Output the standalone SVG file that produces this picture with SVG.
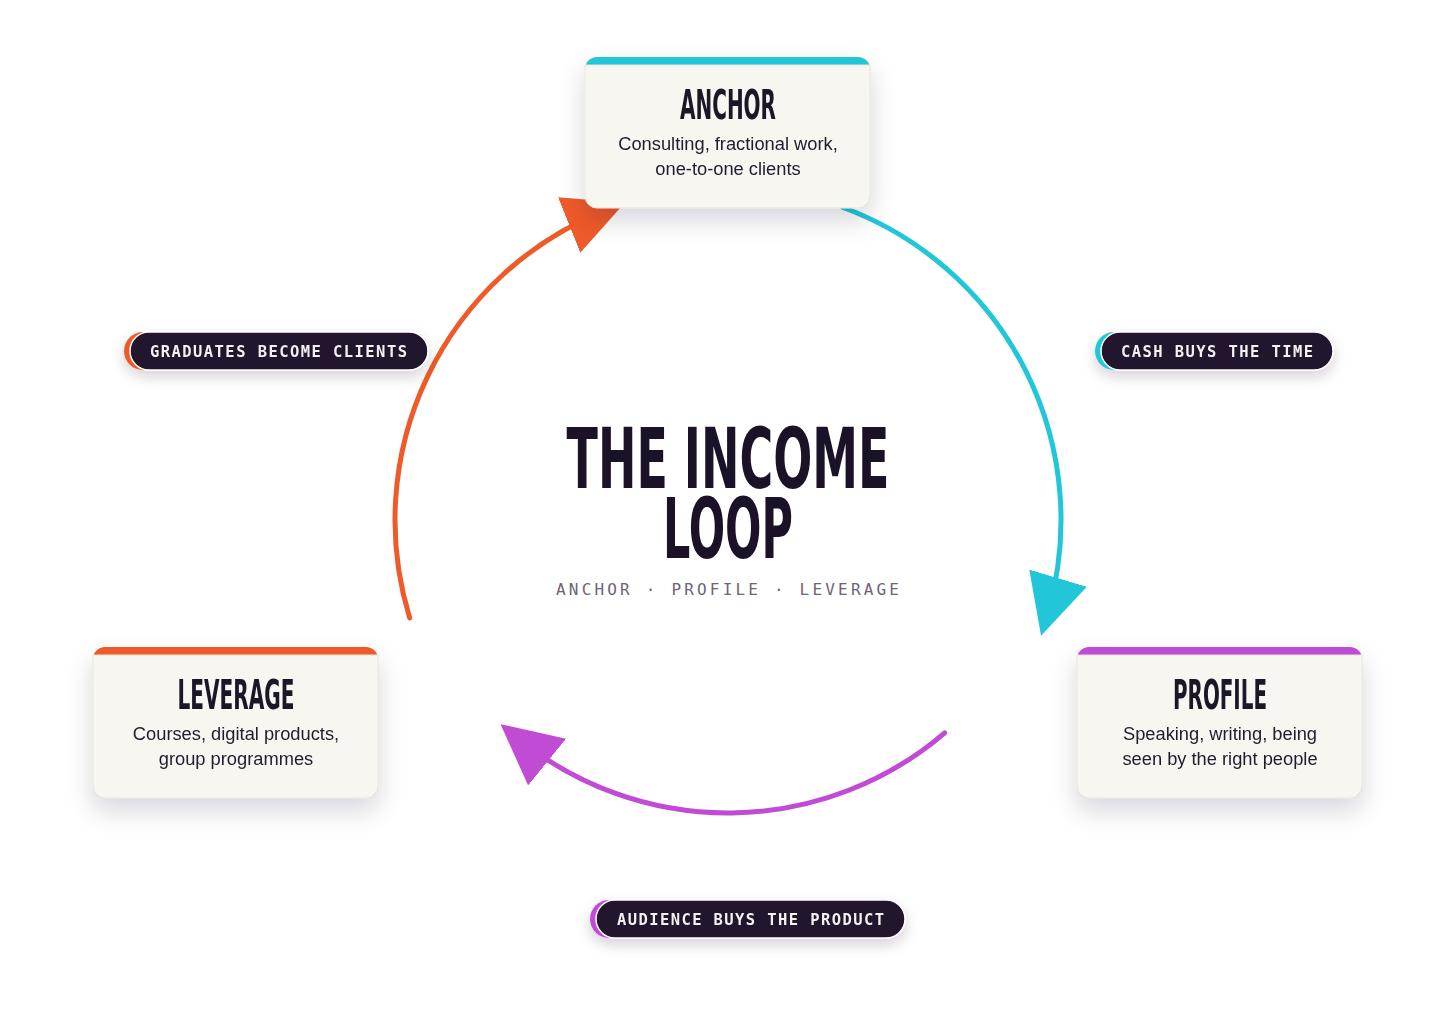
<svg xmlns="http://www.w3.org/2000/svg" width="1456" height="1025" viewBox="0 0 1456 1025">
<style>
.card{fill:#f8f6f1;stroke:#e7e4dd;stroke-width:1}
.ttl{font-family:"Liberation Sans Narrow","DejaVu Sans Condensed","Liberation Sans",sans-serif;font-weight:700;fill:#1c1228;text-anchor:middle}
.body{font-family:"Liberation Sans","Noto Sans",sans-serif;font-size:18.3px;fill:#231a2e;text-anchor:middle}
.pill{fill:#20132f;stroke:#ffffff;stroke-width:1.5}
.ptxt{font-family:"DejaVu Sans Mono","Liberation Mono",monospace;font-size:15.5px;font-weight:700;fill:#f4f1ee}
.sub{font-family:"DejaVu Sans Mono","Liberation Mono",monospace;font-size:16px;fill:#6d6478}
.arc{fill:none;stroke-width:5;stroke-linecap:round}
</style>
<defs>
<filter id="sh" x="-30%" y="-30%" width="160%" height="180%">
<feDropShadow dx="0" dy="12" stdDeviation="13" flood-color="#1d1330" flood-opacity="0.16"/>
</filter>
<filter id="psh" x="-20%" y="-50%" width="140%" height="220%">
<feDropShadow dx="0" dy="6" stdDeviation="7" flood-color="#1d1330" flood-opacity="0.18"/>
</filter>
<marker id="mO" viewBox="0 0 60 60" refX="38" refY="30" markerWidth="60" markerHeight="60" markerUnits="userSpaceOnUse" orient="auto"><path d="M0,0 L60,30 L0,60 Z" fill="#ef5a2a"/></marker>
<marker id="mB" viewBox="0 0 60 60" refX="38" refY="30" markerWidth="60" markerHeight="60" markerUnits="userSpaceOnUse" orient="auto"><path d="M0,0 L60,30 L0,60 Z" fill="#22c6d9"/></marker>
<marker id="mP" viewBox="0 0 60 60" refX="38" refY="30" markerWidth="60" markerHeight="60" markerUnits="userSpaceOnUse" orient="auto"><path d="M0,0 L60,30 L0,60 Z" fill="#c24bd6"/></marker>
</defs>
<rect width="1456" height="1025" fill="#ffffff"/>

<g id="connectors">
<path class="arc" stroke="#ef5a2a" d="M409.7 617.9 A333 333 0 0 1 604.4 210.9" marker-end="url(#mO)"/>
<path class="arc" stroke="#22c6d9" d="M843 207.5 A333 333 0 0 1 1047.3 614.6" marker-end="url(#mB)"/>
<path class="arc" stroke="#c24bd6" d="M944.7 732.8 A333 333 0 0 1 517.6 738.1" marker-end="url(#mP)"/>
</g>

<g id="center-title">
<text class="ttl" font-size="84" fill="#20132f"><tspan x="728" y="488" textLength="323" lengthAdjust="spacingAndGlyphs">THE INCOME</tspan><tspan x="728" y="558" textLength="130" lengthAdjust="spacingAndGlyphs">LOOP</tspan></text>
<text class="sub" x="556" y="595" textLength="343" lengthAdjust="spacing">ANCHOR · PROFILE · LEVERAGE</text>
</g>

<g id="anchor" filter="url(#sh)">
<rect x="585" y="57" width="285" height="151" rx="12" fill="#22c6d9"/>
<path class="card" d="M585 65 H870 V196 A12 12 0 0 1 858 208 H597 A12 12 0 0 1 585 196 Z"/>
<text class="ttl" x="728" y="119" font-size="40" textLength="96" lengthAdjust="spacingAndGlyphs">ANCHOR</text>
<text class="body" x="728" y="150">Consulting, fractional work,</text>
<text class="body" x="728" y="175">one-to-one clients</text>
</g>

<g id="profile" filter="url(#sh)">
<rect x="1077" y="647" width="285" height="151" rx="12" fill="#c24bd6"/>
<path class="card" d="M1077 655 H1362 V786 A12 12 0 0 1 1350 798 H1089 A12 12 0 0 1 1077 786 Z"/>
<text class="ttl" x="1220" y="709" font-size="40" textLength="94" lengthAdjust="spacingAndGlyphs">PROFILE</text>
<text class="body" x="1220" y="740">Speaking, writing, being</text>
<text class="body" x="1220" y="765">seen by the right people</text>
</g>

<g id="leverage" filter="url(#sh)">
<rect x="93" y="647" width="285" height="151" rx="12" fill="#ef5a2a"/>
<path class="card" d="M93 655 H378 V786 A12 12 0 0 1 366 798 H105 A12 12 0 0 1 93 786 Z"/>
<text class="ttl" x="236" y="709" font-size="40" textLength="117" lengthAdjust="spacingAndGlyphs">LEVERAGE</text>
<text class="body" x="236" y="740">Courses, digital products,</text>
<text class="body" x="236" y="765">group programmes</text>
</g>

<g id="label-graduates" filter="url(#psh)">
<rect x="124" y="332" width="300" height="38" rx="19" fill="#ef5a2a"/>
<rect class="pill" x="130" y="332" width="298" height="38" rx="19"/>
<text class="ptxt" x="150" y="356.5" textLength="257" lengthAdjust="spacing">GRADUATES BECOME CLIENTS</text>
</g>

<g id="label-cash" filter="url(#psh)">
<rect x="1095" y="332" width="234" height="38" rx="19" fill="#22c6d9"/>
<rect class="pill" x="1101" y="332" width="232" height="38" rx="19"/>
<text class="ptxt" x="1121" y="356.5" textLength="192" lengthAdjust="spacing">CASH BUYS THE TIME</text>
</g>

<g id="label-audience" filter="url(#psh)">
<rect x="590" y="900" width="310" height="38" rx="19" fill="#c24bd6"/>
<rect class="pill" x="596" y="900" width="309" height="38" rx="19"/>
<text class="ptxt" x="617" y="925" textLength="267" lengthAdjust="spacing">AUDIENCE BUYS THE PRODUCT</text>
</g>
</svg>
